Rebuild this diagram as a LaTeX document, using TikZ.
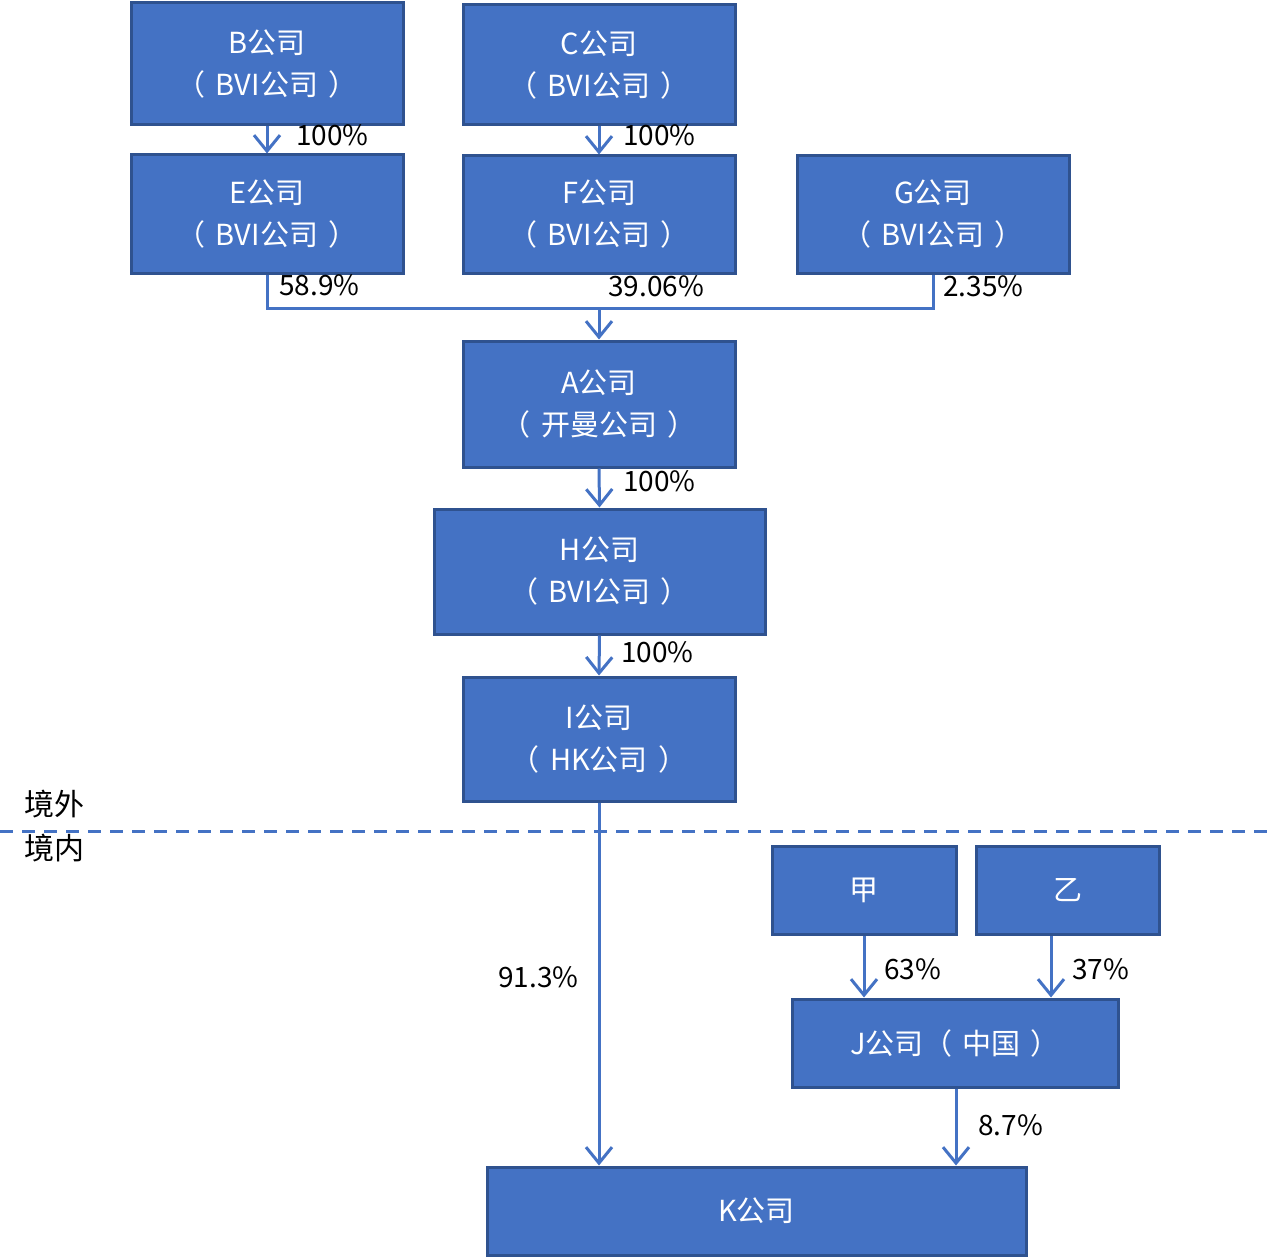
\documentclass[tikz,border=0pt]{standalone}
\usepackage{fontspec}
\setmainfont{Noto Sans CJK SC}
\usetikzlibrary{arrows.meta}
\definecolor{boxfill}{HTML}{4472C4}
\definecolor{boxline}{HTML}{2F528F}
\definecolor{conn}{HTML}{4472C4}
\newcommand{\myOpen}{（\kern0.35em}
\newcommand{\myClose}{\kern0.35em）}
\tikzset{
  cbox/.style={draw=boxline, line width=3pt, fill=boxfill, text=white, inner sep=0pt,
    align=center, font=\fontsize{29}{42}\selectfont},
  conline/.style={draw=conn, line width=3pt},
  conarr/.style={conline, -{Straight Barb[length=16pt,width=26pt,line width=3pt]}},
  pct/.style={anchor=west, inner sep=0pt, text=black, font=\fontsize{28}{34}\selectfont},
  zone/.style={anchor=west, inner sep=0pt, text=black, font=\fontsize{30}{36}\selectfont}
}
\begin{document}
\begin{tikzpicture}[x=1pt,y=-1pt]
\useasboundingbox (0,0) rectangle (1280,1260);
% boxes
\node[cbox, minimum width=272pt, minimum height=122pt] (B) at (267,64) {B公司\\\myOpen BVI公司\myClose};
\node[cbox, minimum width=272pt, minimum height=120pt] (C) at (599,65) {C公司\\\myOpen BVI公司\myClose};
\node[cbox, minimum width=272pt, minimum height=118pt] (E) at (267,214) {E公司\\\myOpen BVI公司\myClose};
\node[cbox, minimum width=272pt, minimum height=117pt] (F) at (599,214.5) {F公司\\\myOpen BVI公司\myClose};
\node[cbox, minimum width=272pt, minimum height=117pt] (G) at (933,214.5) {G公司\\\myOpen BVI公司\myClose};
\node[cbox, minimum width=272pt, minimum height=126pt] (A) at (599,404) {A公司\\\myOpen 开曼公司\myClose};
\node[cbox, minimum width=331pt, minimum height=125pt] (H) at (599.5,571.5) {H公司\\\myOpen BVI公司\myClose};
\node[cbox, minimum width=272pt, minimum height=124pt] (I) at (599,739) {I公司\\\myOpen HK公司\myClose};
\node[cbox, minimum width=184pt, minimum height=88pt] (P1) at (864,890) {甲};
\node[cbox, minimum width=183pt, minimum height=88pt] (P2) at (1067.5,890) {乙};
\node[cbox, minimum width=326pt, minimum height=88pt] (J) at (955,1043) {J公司\myOpen 中国\myClose};
\node[cbox, minimum width=539pt, minimum height=88pt] (K) at (756.5,1211) {K公司};
% connectors
\draw[conarr] (B.south) -- (E.north);
\draw[conarr] (C.south) -- (F.north);
\coordinate (jn) at (599,308);
\draw[conline] (E.south) |- (jn) -| (G.south);
\draw[conarr] (jn) -- (A.north);
\draw[conarr] (A.south) -- (H.north);
\draw[conarr] (H.south) -- (I.north);
\draw[conarr] (I.south) -- (I.south |- K.north);
\draw[conarr] (P1.south) -- (P1.south |- J.north);
\draw[conarr] (P2.south -| 1051,0) -- (1051,0 |- J.north);
\draw[conarr] (J.south -| 956,0) -- (956,0 |- K.north);
% labels
\node[pct] (l1) at (296,135) {100\%};
\node[pct] (l2) at (623,135) {100\%};
\node[pct] (l3) at (279,285) {58.9\%};
\node[pct] (l4) at (608,286) {39.06\%};
\node[pct] (l5) at (943,286) {2.35\%};
\node[pct] (l6) at (623,481) {100\%};
\node[pct] (l7) at (621,652) {100\%};
\node[pct] (l8) at (498,977) {91.3\%};
\node[pct] (l9) at (884,969) {63\%};
\node[pct] (l10) at (1072,969) {37\%};
\node[pct] (l11) at (978,1125) {8.7\%};
% border line
\coordinate (d1) at (0,831);
\coordinate (d2) at (1268,831);
\draw[draw=conn, line width=3pt, dash pattern=on 13pt off 9pt] (d1) -- (d2);
\node[zone] (out) at (24,804) {境外};
\node[zone] (in) at (24,848) {境内};
\end{tikzpicture}
\end{document}
